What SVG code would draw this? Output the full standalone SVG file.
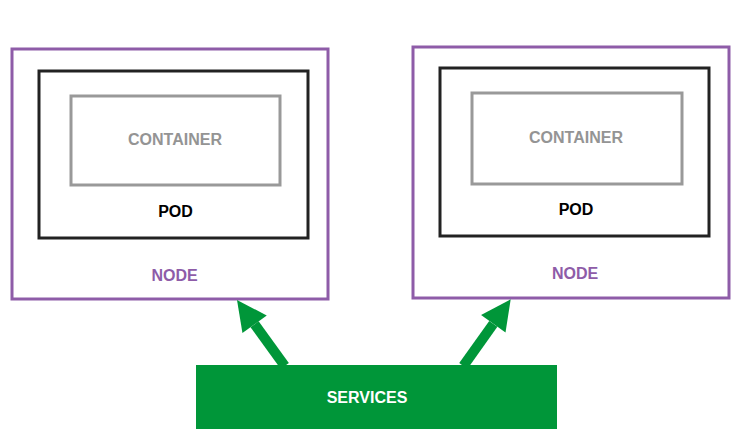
<svg xmlns="http://www.w3.org/2000/svg" width="753" height="439" viewBox="0 0 753 439">
<style>
text{font-family:"Liberation Sans",Arial,sans-serif;font-weight:bold;font-size:16px;text-anchor:middle}
.node{fill:#fff;stroke:#8E5CA8;stroke-width:3}
.pod{fill:none;stroke:#222;stroke-width:3}
.cont{fill:none;stroke:#999;stroke-width:3}
.tc{fill:#949494}
.tp{fill:#000}
.tn{fill:#8E5CA8}
.conn{stroke:#009639;stroke-width:10;fill:none;marker-end:url(#ah)}
</style>
<defs>
<marker id="ah" markerUnits="userSpaceOnUse" markerWidth="30" markerHeight="30" refX="0" refY="15" orient="auto" overflow="visible">
<path d="M0,0 L30,15 L0,30 z" fill="#009639"/>
</marker>
</defs>
<g id="node1">
<rect class="node" x="12" y="49" width="316" height="250"/>
<rect class="pod" x="39" y="71" width="269" height="167"/>
<rect class="cont" x="71" y="96" width="209" height="89"/>
<text class="tc" x="175" y="145">CONTAINER</text>
<text class="tp" x="175.5" y="217">POD</text>
<text class="tn" x="174.5" y="281">NODE</text>
</g>
<g id="node2">
<rect class="node" x="413" y="47" width="316" height="251"/>
<rect class="pod" x="440" y="68" width="269" height="168"/>
<rect class="cont" x="472" y="93" width="210" height="91"/>
<text class="tc" x="576" y="143">CONTAINER</text>
<text class="tp" x="576" y="215">POD</text>
<text class="tn" x="575" y="279">NODE</text>
</g>
<g id="connectors">
<line class="conn" x1="284.8" y1="366" x2="254.6" y2="324.3"/>
<line class="conn" x1="463.3" y1="366" x2="493.3" y2="323.8"/>
</g>
<g id="services">
<rect x="196" y="365" width="361" height="64" fill="#009639"/>
<text x="367" y="403" fill="#fff">SERVICES</text>
</g>
</svg>
